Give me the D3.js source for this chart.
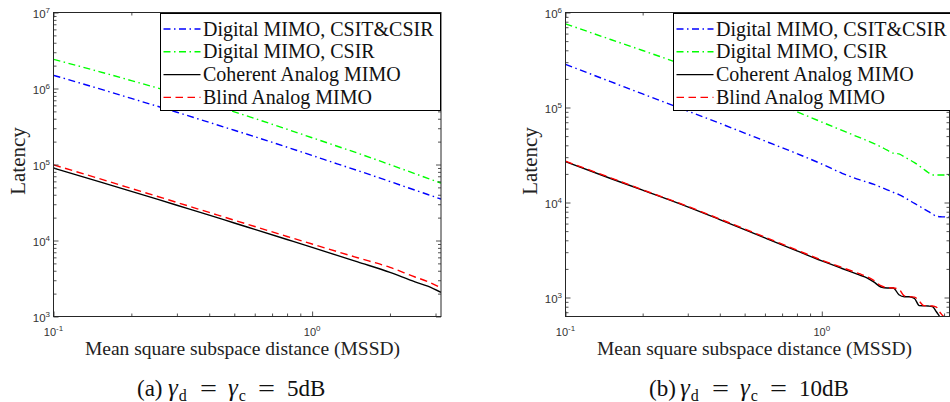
<!DOCTYPE html>
<html>
<head>
<meta charset="utf-8">
<script src="https://cdn.jsdelivr.net/npm/d3@7"></script>
<style>
  html, body { margin: 0; padding: 0; background: #fff; }
  svg { display: block; }
</style>
</head>
<body>
<svg id="fig" width="950" height="402"></svg>
<script>
// ---- (a) gamma_d = gamma_c = 5 dB ----
const mssdLeft = [0.1, 0.15, 0.2, 0.3, 0.4, 0.5, 0.6, 0.8, 1.0, 1.25, 1.5, 2.0, 2.5, 2.8, 3.15];
const leftDigitalFull = [1.49e6, 9.95e5, 7.41e5, 4.87e5, 3.58e5, 2.82e5, 2.32e5, 1.69e5, 1.315e5, 1.02e5, 8.32e4, 5.97e4, 4.60e4, 4.03e4, 3.51e4];
const leftDigitalCsir = [2.42e6, 1.67e6, 1.27e6, 8.55e5, 6.30e5, 4.93e5, 4.03e5, 2.91e5, 2.25e5, 1.74e5, 1.41e5, 9.95e4, 7.57e4, 6.58e4, 5.69e4];
const leftCoherent = [8.99e4, 5.96e4, 4.44e4, 2.91e4, 2.16e4, 1.70e4, 1.40e4, 1.03e4, 8.11e3, 6.37e3, 5.22e3, 3.81e3, 2.85e3, 2.51e3, 2.08e3];
const leftBlind = [9.91e4, 6.53e4, 4.84e4, 3.17e4, 2.34e4, 1.85e4, 1.53e4, 1.13e4, 8.99e3, 7.14e3, 5.93e3, 4.43e3, 3.31e3, 2.88e3, 2.38e3];

// ---- (b) gamma_d = gamma_c = 10 dB ----
const mssdRight = [0.1, 0.15, 0.2, 0.3, 0.4, 0.5, 0.6, 0.8, 1.0, 1.2, 1.4, 1.5, 1.6, 1.7, 1.8, 1.9, 2.0, 2.1, 2.2, 2.3, 2.4, 2.5, 2.6, 2.7, 2.8, 2.9, 3.0, 3.15];
const rightDigitalFull = [2.84e5, 1.87e5, 1.39e5, 9.18e4, 6.82e4, 5.38e4, 4.44e4, 3.27e4, 2.54e4, 2.03e4, 1.74e4, 1.64e4, 1.55e4, 1.45e4, 1.36e4, 1.28e4, 1.21e4, 1.13e4, 1.05e4, 9.77e3, 9.16e3, 8.57e3, 8.07e3, 7.59e3, 7.16e3, 7.08e3, 7.05e3, 7.05e3];
const rightDigitalCsir = [7.60e5, 5.20e5, 3.98e5, 2.69e5, 1.95e5, 1.52e5, 1.24e5, 9.02e4, 7.03e4, 5.74e4, 4.84e4, 4.49e4, 4.17e4, 3.86e4, 3.55e4, 3.31e4, 3.25e4, 3.02e4, 2.82e4, 2.63e4, 2.43e4, 2.24e4, 2.07e4, 1.95e4, 1.95e4, 1.95e4, 1.95e4, 1.95e4];
const rightCoherent = [2.69e4, 1.79e4, 1.35e4, 9.0e3, 6.61e3, 5.19e3, 4.24e3, 3.09e3, 2.43e3, 2.02e3, 1.73e3, 1.61e3, 1.45e3, 1.29e3, 1.26e3, 1.26e3, 1.07e3, 1.02e3, 1.02e3, 977, 822, 817, 813, 804, 708, 617, 562, 525];
const rightBlind = [2.72e4, 1.82e4, 1.36e4, 9.12e3, 6.70e3, 5.27e3, 4.32e3, 3.16e3, 2.47e3, 2.07e3, 1.78e3, 1.66e3, 1.51e3, 1.33e3, 1.27e3, 1.26e3, 1.22e3, 1.04e3, 1.02e3, 1.01e3, 912, 822, 817, 813, 794, 692, 631, 631];

// ---- shared labels ----
const seriesNames = ["Digital MIMO, CSIT&CSIR", "Digital MIMO, CSIR", "Coherent Analog MIMO", "Blind Analog MIMO"];
const xTickExps = [-1, 0];
const leftYTickExps = [3, 4, 5, 6, 7];
const rightYTickExps = [3, 4, 5, 6];
const xLabel = "Mean square subspace distance (MSSD)";
const yLabel = "Latency";
const panelTags = ["(a)", "(b)"];
const panelSnr = ["5dB", "10dB"];

const SERIF = "'Liberation Serif', 'Times New Roman', Times, serif";
const SANS = "'Liberation Sans', Arial, Helvetica, sans-serif";
const AXIS_COLOR = "#262626";

const styles = [
  { color: "#0000ff", dash: "7,3.5,1.5,3.5", width: 1.4 },
  { color: "#00ff00", dash: "7,3.5,1.5,3.5", width: 1.4 },
  { color: "#000000", dash: null, width: 1.4 },
  { color: "#ff0000", dash: "7.5,4.5", width: 1.4 }
];

const panels = [
  {
    id: "a", left: 53.5, right: 441, top: 12.5, bottom: 316.5,
    xDomain: [0.1, 3.15], yDomain: [1e3, 1e7], yExps: leftYTickExps,
    mssd: mssdLeft, series: [leftDigitalFull, leftDigitalCsir, leftCoherent, leftBlind],
    legendX: 160.5, tag: panelTags[0], snr: panelSnr[0]
  },
  {
    id: "b", left: 565.5, right: 949.5, top: 12.5, bottom: 316.5,
    xDomain: [0.1, 3.15], yDomain: [Math.pow(10, 2.8), 1e6], yExps: rightYTickExps,
    mssd: mssdRight, series: [rightDigitalFull, rightDigitalCsir, rightCoherent, rightBlind],
    legendX: 673.5, tag: panelTags[1], snr: panelSnr[1]
  }
];

const svg = d3.select("#fig");

function minorTicks(domain) {
  const out = [];
  const lo = Math.floor(Math.log10(domain[0]));
  const hi = Math.ceil(Math.log10(domain[1]));
  for (let e = lo; e <= hi; e++) {
    for (let m = 2; m <= 9; m++) {
      const v = m * Math.pow(10, e);
      if (v > domain[0] * 1.0001 && v < domain[1] * 0.9999) out.push(v);
    }
  }
  return out;
}

function powerLabel(sel, exp, supSize, supShift) {
  sel.append("tspan").text("10");
  sel.append("tspan").attr("dy", -supShift).attr("font-size", supSize).text(String(exp));
}

panels.forEach(p => {
  const g = svg.append("g").attr("class", "panel-" + p.id);
  const x = d3.scaleLog().domain(p.xDomain).range([p.left, p.right]);
  const y = d3.scaleLog().domain(p.yDomain).range([p.bottom, p.top]);

  const clipId = "clip-" + p.id;
  svg.append("defs").append("clipPath").attr("id", clipId)
    .append("rect")
    .attr("x", p.left).attr("y", p.top)
    .attr("width", p.right - p.left).attr("height", p.bottom - p.top);

  // curves
  const line = d3.line()
    .x(d => x(d[0]))
    .y(d => y(d[1]))
    .curve(d3.curveMonotoneX);

  const curves = g.append("g").attr("clip-path", `url(#${clipId})`);
  p.series.forEach((vals, i) => {
    const pts = p.mssd.map((m, k) => [m, vals[k]]);
    curves.append("path")
      .attr("d", line(pts))
      .attr("fill", "none")
      .attr("stroke", styles[i].color)
      .attr("stroke-width", styles[i].width)
      .attr("stroke-dasharray", styles[i].dash)
      .attr("stroke-linejoin", "round");
  });

  // ticks on all four sides, pointing inward
  const xMajor = xTickExps.map(e => Math.pow(10, e)).filter(v => v >= p.xDomain[0] && v <= p.xDomain[1]);
  const xMinor = minorTicks(p.xDomain);
  const yMajor = p.yExps.map(e => Math.pow(10, e));
  const yMinor = minorTicks(p.yDomain);

  const addAxis = (gen, transform) => {
    const a = g.append("g").attr("transform", transform).attr("color", AXIS_COLOR).call(gen);
    a.select(".domain").remove();
    a.selectAll("line").attr("stroke-width", 0.8);
    a.selectAll("text").remove();
  };
  [[xMajor, 5], [xMinor, 3]].forEach(([vals, len]) => {
    addAxis(d3.axisBottom(x).tickValues(vals).tickSize(-len).tickFormat(""), `translate(0,${p.bottom})`);
    addAxis(d3.axisTop(x).tickValues(vals).tickSize(-len).tickFormat(""), `translate(0,${p.top})`);
  });
  [[yMajor, 5], [yMinor, 3]].forEach(([vals, len]) => {
    addAxis(d3.axisLeft(y).tickValues(vals).tickSize(-len).tickFormat(""), `translate(${p.left},0)`);
    addAxis(d3.axisRight(y).tickValues(vals).tickSize(-len).tickFormat(""), `translate(${p.right},0)`);
  });

  // frame
  g.append("rect")
    .attr("x", p.left).attr("y", p.top)
    .attr("width", p.right - p.left).attr("height", p.bottom - p.top)
    .attr("fill", "none").attr("stroke", AXIS_COLOR).attr("stroke-width", 1);

  // y tick labels
  p.yExps.forEach(e => {
    const t = g.append("text")
      .attr("x", p.left - 3.5)
      .attr("y", y(Math.pow(10, e)) + 5)
      .attr("text-anchor", "end")
      .attr("font-family", SANS).attr("font-size", 11.5).attr("fill", "#333");
    powerLabel(t, e, 8, 5);
  });

  // x tick labels
  xTickExps.forEach(e => {
    const t = g.append("text")
      .attr("x", x(Math.pow(10, e)))
      .attr("y", 336)
      .attr("text-anchor", "middle")
      .attr("font-family", SANS).attr("font-size", 11).attr("fill", "#333");
    powerLabel(t, e, 8, 5);
  });

  // axis titles
  const cx = p.left + 189;
  g.append("text")
    .attr("x", cx).attr("y", 355)
    .attr("text-anchor", "middle")
    .attr("font-family", SERIF).attr("font-size", 19.5).attr("fill", "#222")
    .text(xLabel);
  g.append("text")
    .attr("transform", `translate(${p.left - 28.5},161) rotate(-90)`)
    .attr("text-anchor", "middle")
    .attr("font-family", SERIF).attr("font-size", 21).attr("fill", "#222")
    .text(yLabel);

  // legend
  const lg = g.append("g");
  const lx = p.legendX, ly = 13.5, lw = 280, lh = 97;
  lg.append("rect").attr("x", lx).attr("y", ly).attr("width", lw).attr("height", lh)
    .attr("fill", "#fff").attr("stroke", "#000").attr("stroke-width", 1);
  seriesNames.forEach((name, i) => {
    const cy = ly + 15.5 + i * 22.8;
    lg.append("line")
      .attr("x1", lx + 3).attr("x2", lx + 40)
      .attr("y1", cy).attr("y2", cy)
      .attr("stroke", styles[i].color).attr("stroke-width", styles[i].width)
      .attr("stroke-dasharray", styles[i].dash);
    lg.append("text")
      .attr("x", lx + 42.5).attr("y", cy + 6.5)
      .attr("font-family", SERIF).attr("font-size", 20).attr("fill", "#111")
      .text(name);
  });

  // sub-figure caption: (a) gamma_d = gamma_c = 5dB, typeset piece by piece
  const base = p.left - 0.5;
  const cap = g.append("text")
    .attr("y", 396)
    .attr("font-family", SERIF).attr("font-size", 23).attr("fill", "#111");
  cap.append("tspan").attr("x", base + 84).text(p.tag);
  cap.append("tspan").attr("x", base + 115).attr("font-size", 25).attr("font-style", "italic").text("\u03b3");
  cap.append("tspan").attr("font-size", 16).attr("dy", 4.5).attr("dx", 1).text("d");
  cap.append("tspan").attr("x", base + 147).attr("dy", -4.5).attr("textLength", 17).attr("lengthAdjust", "spacingAndGlyphs").text("=");
  cap.append("tspan").attr("x", base + 175).attr("font-size", 25).attr("font-style", "italic").text("\u03b3");
  cap.append("tspan").attr("font-size", 16).attr("dy", 4.5).attr("dx", 1).text("c");
  cap.append("tspan").attr("x", base + 205).attr("dy", -4.5).attr("textLength", 17).attr("lengthAdjust", "spacingAndGlyphs").text("=");
  cap.append("tspan").attr("x", base + 234).text(p.snr);
});
</script>
</body>
</html>
